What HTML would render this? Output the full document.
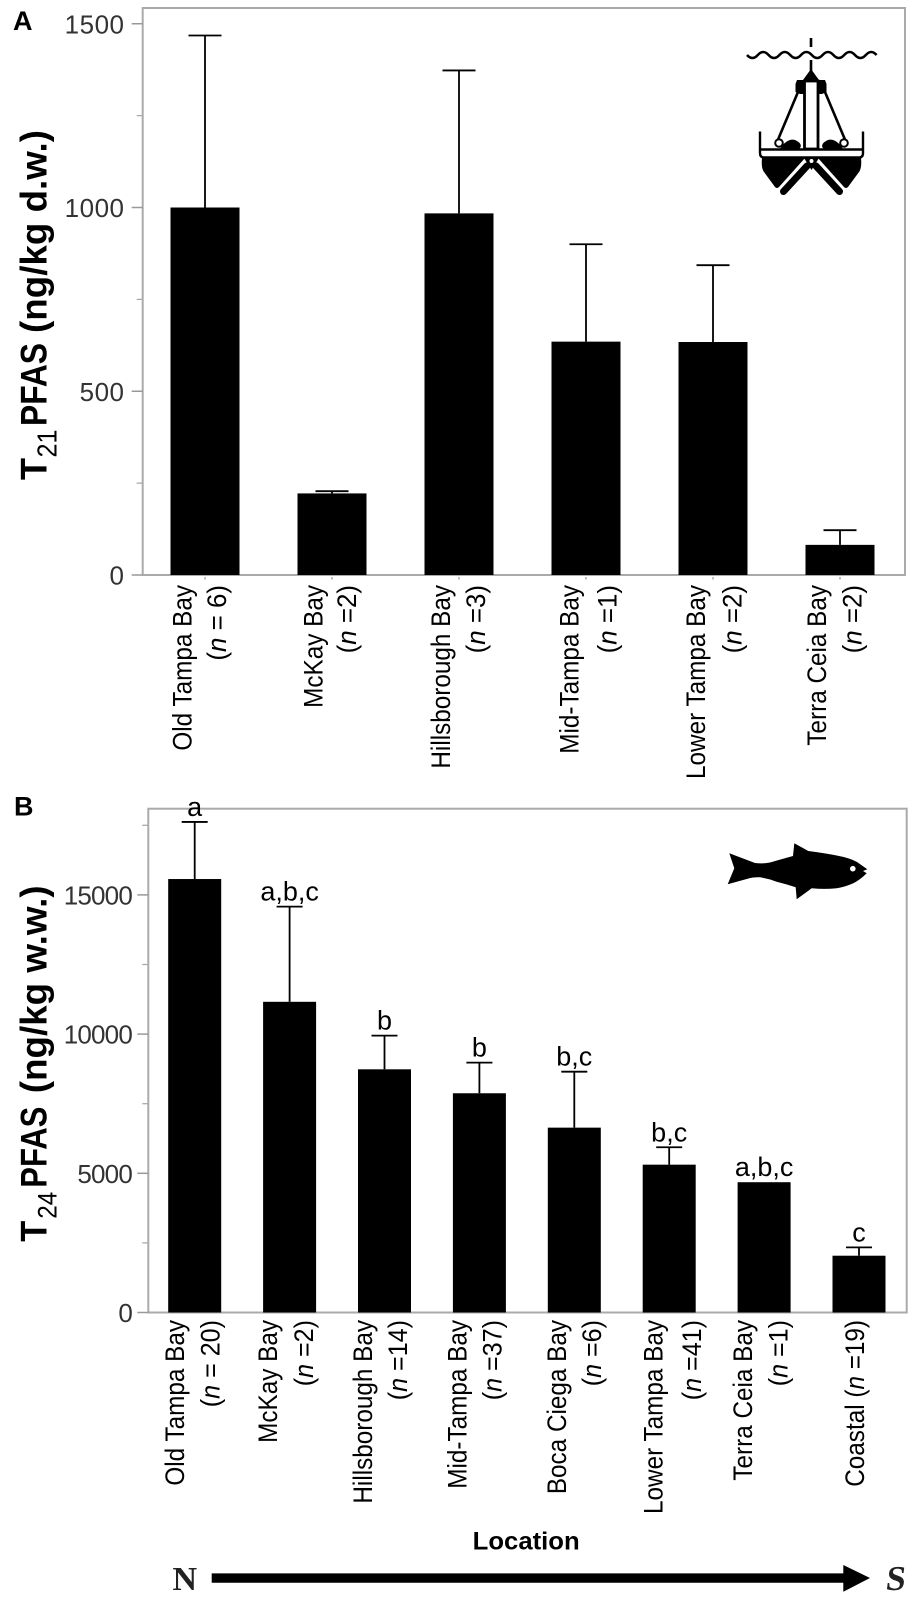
<!DOCTYPE html>
<html lang="en">
<head>
<meta charset="utf-8">
<title>PFAS concentrations in Tampa Bay</title>
<style>
  html, body { margin: 0; padding: 0; background: #fff; }
  svg { display: block; }
  text { font-family: "Liberation Sans", sans-serif; }
</style>
</head>
<body>
<svg id="figure" xmlns="http://www.w3.org/2000/svg" width="921" height="1598" viewBox="0 0 921 1598">
  <rect x="0" y="0" width="921" height="1598" fill="#fff"/>

  <text x="13" y="30" font-size="27" font-weight="bold">A</text>
  <text x="14" y="815.5" font-size="27" font-weight="bold">B</text>

  <g transform="translate(46.7,480) rotate(-90)" font-weight="bold" font-size="37">
    <text x="0" y="0" textLength="22" lengthAdjust="spacingAndGlyphs">T</text>
    <text x="22.5" y="10" font-size="28" font-weight="normal" textLength="28" lengthAdjust="spacingAndGlyphs">21</text>
    <text x="54" y="0" textLength="83" lengthAdjust="spacingAndGlyphs">PFAS</text>
    <text x="147" y="0" textLength="203" lengthAdjust="spacingAndGlyphs">(ng/kg d.w.)</text>
  </g>
  <g transform="translate(46.7,1241.7) rotate(-90)" font-weight="bold" font-size="37">
    <text x="0" y="0" textLength="21" lengthAdjust="spacingAndGlyphs">T</text>
    <text x="23" y="10" font-size="27" font-weight="normal" textLength="27" lengthAdjust="spacingAndGlyphs">24</text>
    <text x="54" y="0" textLength="81" lengthAdjust="spacingAndGlyphs">PFAS</text>
    <text x="148.4" y="0" textLength="208" lengthAdjust="spacingAndGlyphs">(ng/kg w.w.)</text>
  </g>

  <g id="panelA"></g>
  <g id="panelB"></g>

  <g>
    <path d="M747 55 q5.4 6 10.8 0 t10.8 0 t10.8 0 t10.8 0 t10.8 0 t10.8 0 t10.8 0 t10.8 0 t10.8 0 t10.8 0 t10.8 0 t10.8 0" fill="none" stroke="#000" stroke-width="2.5"/>
    <path d="M811 38 V47 M811 60 V72" fill="none" stroke="#000" stroke-width="2.6"/>
    <path d="M811 69 L803 80 H797 L795.5 84 V92 L800 94 H822 L826.5 92 V84 L825 80 H819 Z" fill="#000"/>
    <path d="M798 92 L777 142 M825 92 L846 142" fill="none" stroke="#000" stroke-width="2.6"/>
    <rect x="804.5" y="81" width="13.5" height="68" fill="#fff" stroke="#000" stroke-width="2.8"/>
    <path d="M780 149 C784 142 790 138.5 795 140 C800 142 803 146 799 149 Z M843 149 C839 142 833 138.5 828 140 C823 142 820 146 824 149 Z" fill="#000"/>
    <circle cx="779" cy="143" r="3.8" fill="#fff" stroke="#000" stroke-width="2"/>
    <circle cx="844" cy="143" r="3.8" fill="#fff" stroke="#000" stroke-width="2"/>
    <path d="M760 131.5 V153 Q760 157.5 764 157.5 H859 Q863 157.5 863 153 V131.5" fill="none" stroke="#000" stroke-width="2.4"/>
    <path d="M760 149.5 H863" fill="none" stroke="#000" stroke-width="2.6"/>
    <path d="M762 158 H805 L779 187 Q777 189 775 187 L764 172 Q761 168 762 158 Z" fill="#000"/>
    <path d="M861 158 H818 L844 187 Q846 189 848 187 L859 172 Q862 168 861 158 Z" fill="#000"/>
    <path d="M804 158 H819 L811.5 170 Z" fill="#000"/>
    <path d="M783.5 191.5 L807 166 M839.5 191.5 L816 166" fill="none" stroke="#000" stroke-width="7" stroke-linecap="round"/>
    <circle cx="811.5" cy="161" r="2" fill="#fff"/>
  </g>

  <g>
    <path d="M729.3 853.3 L755 863 Q762 864 770 862.5 Q782 859 793 856 L794.3 843.3 L808.3 851 Q824 853 836.7 855.5 Q850 858 857 862 L867.3 869.3 L863 871 L866.7 873.3 Q860 880 853.3 883.3 Q845 887 836.7 888.3 Q824 889.5 811.7 888.3 L796.7 899.3 L795.7 887.3 Q786 884 776.7 881.7 Q768 878.5 760 877.3 Q753 877 746.7 879 L727.7 884.3 L734.3 868.3 Z" fill="#000"/>
    <circle cx="852.8" cy="868.7" r="2.8" fill="#fff"/>
  </g>

  <text x="472.7" y="1549.3" font-size="25" font-weight="bold" textLength="107" lengthAdjust="spacingAndGlyphs">Location</text>
  <text x="172.5" y="1590" font-size="34" font-weight="bold" fill="#222" style="font-family:'Liberation Serif',serif">N</text>
  <path d="M211.7 1573.4 H843.3 V1565 L870 1578 L843.3 1591.7 V1582.7 H211.7 Z" fill="#000"/>
  <text transform="translate(885,1590) skewX(-7)" font-size="35" font-weight="bold" fill="#222" style="font-family:'Liberation Serif',serif">S</text>

<script>
// ---- Panel A data ----
const categoriesA = ["Old Tampa Bay", "McKay Bay", "Hillsborough Bay", "Mid-Tampa Bay", "Lower Tampa Bay", "Terra Ceia Bay"];
const sampleLabelsA = ["(n = 6)", "(n =2)", "(n =3)", "(n =1)", "(n =2)", "(n =2)"];
const valuesA = [1000, 222, 984, 635, 634, 82];
const errorTopsA = [1468, 228, 1373, 900, 843, 122];
const majorTicksA = [0, 500, 1000, 1500];
const minorTicksA = [250, 750, 1250];

// ---- Panel B data ----
const categoriesB = ["Old Tampa Bay", "McKay Bay", "Hillsborough Bay", "Mid-Tampa Bay", "Boca Ciega Bay", "Lower Tampa Bay", "Terra Ceia Bay", "Coastal (n =19)"];
const sampleLabelsB = ["(n = 20)", "(n =2)", "(n =14)", "(n =37)", "(n =6)", "(n =41)", "(n =1)", ""];
const valuesB = [15570, 11160, 8735, 7875, 6640, 5310, 4680, 2040];
const errorTopsB = [17620, 14580, 9945, 8975, 8650, 5935, null, 2340];
const sigLettersB = ["a", "a,b,c", "b", "b", "b,c", "b,c", "a,b,c", "c"];
const majorTicksB = [0, 5000, 10000, 15000];
const minorTicksB = [2500, 7500, 12500, 17500];

// ---- Label layout (hand alignment of the rotated labels, not data) ----
const line1NudgeA = [-13.3, -9.3, -9, -7.7, -8, -14];
const line2NudgeA = [21, 24, 26, 30.7, 28.7, 21.7];
const line1NudgeB = [-10.7, -12.7, -12.5, -12.7, -8.5, -6.7, -12.3, 5];
const line2NudgeB = [24.6, 23.3, 22.6, 22.3, 26.5, 31.6, 23.4, 0];

const NS = "http://www.w3.org/2000/svg";

function make(tag, attrs, parent) {
  const node = document.createElementNS(NS, tag);
  for (const key in attrs) node.setAttribute(key, attrs[key]);
  parent.appendChild(node);
  return node;
}

function slug(text) {
  return text.toLowerCase().replace(/[^a-z0-9]+/g, "-").replace(/^-|-$/g, "");
}

// Writes text, setting the sample-size letter n in italics.
function fillLabel(node, text) {
  const m = text.indexOf("(n");
  if (m < 0) { node.textContent = text; return; }
  node.appendChild(document.createTextNode(text.slice(0, m + 1)));
  const it = make("tspan", { "font-style": "italic" }, node);
  it.textContent = "n";
  node.appendChild(document.createTextNode(text.slice(m + 2)));
}

function drawPanel(root, p) {
  const y = v => p.y0 - v * p.yScale;
  const x = i => p.x0 + i * p.step;

  const frame = make("rect", { x: p.left, y: p.top, width: p.right - p.left, height: p.y0 - p.top, fill: "#fff", stroke: "#aaa", "stroke-width": 2 }, root);
  
  

  p.major.forEach(v => {
    const tick = make("line", { x1: p.left - 11, x2: p.left, y1: y(v), y2: y(v), stroke: "#999", "stroke-width": 1.5 }, root);
    
    
    const label = make("text", { x: p.labelRight, y: y(v) + 9.5, "text-anchor": "end", "font-size": 26, fill: "#333", "letter-spacing": p.tickSpacing }, root);
    label.textContent = String(v);
    
    
  });

  p.minor.forEach(v => {
    const tick = make("line", { x1: p.left - 6, x2: p.left, y1: y(v), y2: y(v), stroke: "#aaa", "stroke-width": 1.3 }, root);
    
    
  });

  p.categories.forEach((name, i) => {
    const cx = x(i);
    const key = slug(name);

    const bar = make("rect", { x: cx - p.barW / 2, y: y(p.values[i]), width: p.barW, height: y(0) - y(p.values[i]), fill: "#000" }, root);
    
    

    const err = p.errors[i];
    if (err !== null) {
      const stem = make("line", { x1: cx, x2: cx, y1: y(p.values[i]), y2: y(err), stroke: "#000", "stroke-width": 1.8 }, root);
      
      
      const cap = make("line", { x1: cx - p.capW / 2, x2: cx + p.capW / 2, y1: y(err), y2: y(err), stroke: "#000", "stroke-width": 1.8 }, root);
      
      
    }

    if (p.letters) {
      const top = err !== null ? err : p.values[i];
      const sig = make("text", { x: cx, y: y(top) - 6, "text-anchor": "middle", "font-size": 27, fill: "#000" }, root);
      sig.textContent = p.letters[i];
      
      
    }

    if (p.tickMarks) {
      const mark = make("line", { x1: cx, x2: cx, y1: p.y0 + 2, y2: p.y0 + 4.5, stroke: "#aaa", "stroke-width": 1.5 }, root);
      
      
    }

    const line1 = make("text", { transform: "translate(" + (cx + p.nudge1[i]) + "," + p.labelTop + ") rotate(-90) scale(" + p.line1Squeeze + ",1)", "text-anchor": "end", "font-size": 27, fill: "#000" }, root);
    fillLabel(line1, name);
    
    

    if (p.samples[i]) {
      const line2 = make("text", { transform: "translate(" + (cx + p.nudge2[i]) + "," + p.labelTop + ") rotate(-90) scale(" + p.line2Squeeze + ",1)", "text-anchor": "end", "font-size": 27, fill: "#000" }, root);
      fillLabel(line2, p.samples[i]);
      
      
    }
  });
}

drawPanel(document.getElementById("panelA"), {
  categories: categoriesA, samples: sampleLabelsA, values: valuesA, errors: errorTopsA,
  major: majorTicksA, minor: minorTicksA, letters: null, tickMarks: true,
  nudge1: line1NudgeA, nudge2: line2NudgeA,
  left: 142.7, right: 905, top: 8, y0: 575, yScale: 0.3675,
  x0: 205, step: 127, barW: 69, capW: 33,
  labelRight: 124.5, tickSpacing: 0.5, labelTop: 585, line1Squeeze: 0.9, line2Squeeze: 0.96
});

drawPanel(document.getElementById("panelB"), {
  categories: categoriesB, samples: sampleLabelsB, values: valuesB, errors: errorTopsB,
  major: majorTicksB, minor: minorTicksB, letters: sigLettersB, tickMarks: false,
  nudge1: line1NudgeB, nudge2: line2NudgeB,
  left: 148.3, right: 906.7, top: 808.7, y0: 1312.5, yScale: 0.02784,
  x0: 194.7, step: 94.9, barW: 53, capW: 26,
  labelRight: 132, tickSpacing: -0.8, labelTop: 1320, line1Squeeze: 0.9, line2Squeeze: 0.93
});
</script>
</svg>
</body>
</html>
